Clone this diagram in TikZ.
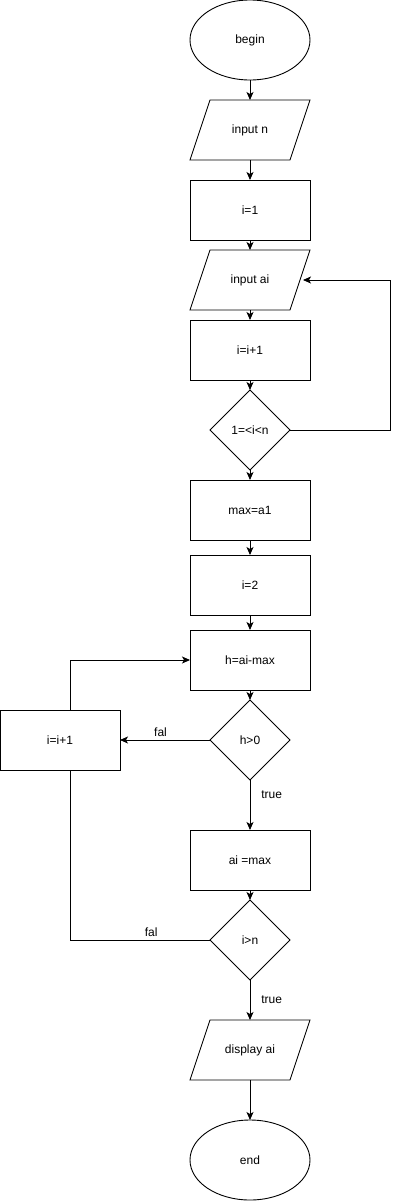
\documentclass[tikz,border=0pt]{standalone}
\usepackage{fontspec}
\setmainfont{Liberation Sans}
\usepackage{tikz}
\usetikzlibrary{arrows.meta, positioning, shapes.geometric}

\begin{document}
\begin{tikzpicture}[x=1pt, y=-1pt, node distance=10pt, >={Stealth[length=8pt,width=7pt,inset=2pt]},
    every node/.style={font=\fontsize{12}{14}\selectfont, outer sep=0pt},
    every path/.style={line width=0.9pt},
    term/.style={ellipse, draw, minimum width=120pt, minimum height=80pt},
    io/.style={rectangle, minimum width=100pt, minimum height=60pt,
        append after command={\pgfextra{\draw
            ([xshift=10pt]\tikzlastnode.north west) -- ([xshift=10pt]\tikzlastnode.north east)
            -- ([xshift=-10pt]\tikzlastnode.south east) -- ([xshift=-10pt]\tikzlastnode.south west)
            -- cycle;}}},
    proc/.style={rectangle, draw, minimum width=120pt, minimum height=60pt},
    decision/.style={diamond, draw, inner sep=0pt, minimum width=80pt, minimum height=80pt}]
            \useasboundingbox (0,0) rectangle (400,1202);
            % Nodes
            \node[term] (begin) at (250,40) {begin};
            \node[io, below=20pt of begin] (inN) {input n};
            \node[proc, below=20pt of inN] (i1) {i=1};
            \node[io, below=of i1] (inA) {input ai};
            \node[proc, below=of inA] (inc1) {i=i+1};
            \node[decision, below=of inc1] (d1) {1=<i<n};
            \node[proc, below=of d1] (max) {max=a1};
            \node[proc, below=15pt of max] (i2) {i=2};
            \node[proc, below=15pt of i2] (h) {h=ai-max};
            \node[decision, below=of h] (d2) {h>0};
            \node[proc, left=90pt of d2] (inc2) {i=i+1};
            \node[proc, below=50pt of d2] (amax) {ai =max};
            \node[decision, below=of amax] (d3) {i>n};
            \node[io, below=40pt of d3] (disp) {display ai};
            \node[term, below=40pt of disp] (end) {end};

            \draw[->] (begin) -- (inN);
            \draw[->] (inN) -- (i1);
            \draw[->] (i1) -- (inA);
            \draw[->] (inA) -- (inc1);
            \draw[->] (inc1) -- (d1);
            \draw[->] (d1) -- (max);
            \draw[->] (max) -- (i2);
            \draw[->] (i2) -- (h);
            \draw[->] (h) -- (d2);
            \draw[->] (d2) -- node[pos=0.3, right=8pt] {true} (amax);
            \draw[->] (amax) -- (d3);
            \draw[->] (d3) -- node[right=8pt] {true} (disp);
            \draw[->] (disp) -- (end);

            \draw[->] (d1.east) -- ++(100,0) |- ([xshift=3pt]inA.east);
            \draw[->] (d2.west) -- node[pos=0.55, above] {fal} (inc2.east);
            \draw[->] ([xshift=10pt]inc2.north) |- (h.west);
            \draw (d3.west) -| node[pos=0.21, above] {fal} ([xshift=10pt]inc2.south);
        \end{tikzpicture}
\end{document}
